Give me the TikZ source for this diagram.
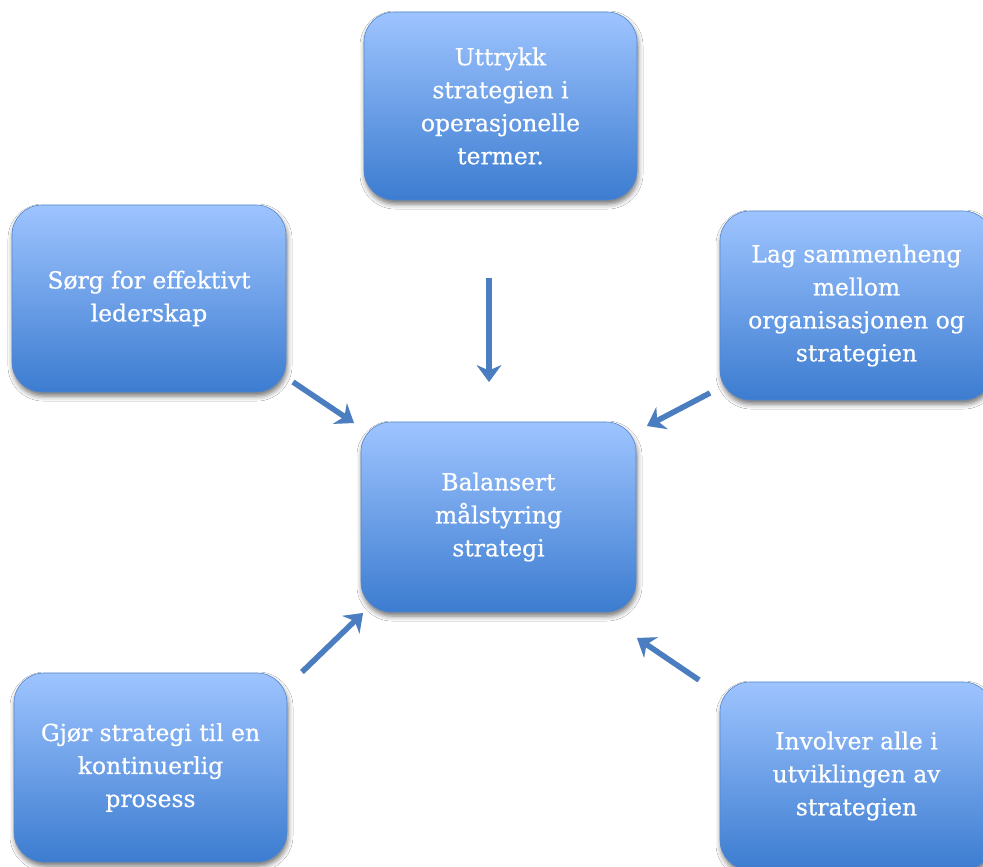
\documentclass[tikz,border=0pt]{standalone}
\usepackage{fontspec}
\setmainfont{DejaVu Serif}
\newfontfamily\boxfont[FakeBold=0.6]{DejaVu Serif}
\usetikzlibrary{arrows.meta,shadows.blur}
\definecolor{boxtop}{RGB}{158,196,255}
\definecolor{boxbottom}{RGB}{60,124,208}
\definecolor{boxedge}{RGB}{84,134,204}
\definecolor{arrowblue}{RGB}{74,126,193}
\tikzset{
  goal/.style={rounded corners=30pt, draw=boxedge, line width=0.6pt,
    top color=boxtop, bottom color=boxbottom, text=white, align=center,
    font=\boxfont\fontsize{23.4}{33}\selectfont, inner sep=0pt,
    minimum width=273pt, minimum height=188pt,
    blur shadow={shadow xshift=1pt, shadow yshift=-4pt,
      shadow blur radius=5pt, shadow opacity=55}},
  link/.style={draw=arrowblue, fill=arrowblue, line width=5.5pt,
    -{Stealth[length=17pt,width=25pt,inset=5.5pt,line width=0pt]}},
  linkshade/.style={draw=black, fill=black, opacity=0.12, line width=5.5pt,
    -{Stealth[length=17pt,width=25pt,inset=5.5pt,line width=0pt]},
    xshift=1.5pt, yshift=-2.5pt}
}
\begin{document}
\begin{tikzpicture}[x=1pt,y=-1pt]
\useasboundingbox (0,0) rectangle (983,867);
\fill[white] (0,0) rectangle (983,867);
\clip (0,0) rectangle (983,867);

% boxes
\node[goal] (top) at (500.5,106) {Uttrykk\\strategien i\\operasjonelle\\termer.};
\node[goal, minimum width=274pt, minimum height=187pt] (lu) at (149,298.5) {Sørg for effektivt\\lederskap};
\node[goal, minimum height=189pt] (ru) at (856.5,305.5) {Lag sammenheng\\mellom\\organisasjonen og\\strategien};
\node[goal, minimum width=275pt, minimum height=190pt] (mid) at (498.5,517) {Balansert\\målstyring\\strategi};
\node[goal, minimum height=189pt] (lb) at (150.5,767.5) {Gjør strategi til en\\kontinuerlig\\prosess};
\node[goal] (rb) at (856.5,776) {Involver alle i\\utviklingen av\\strategien};

% arrow end points in the gaps between the boxes
\coordinate (a1s) at (489,278);  \coordinate (a1e) at (489,382);
\coordinate (a2s) at (293,382);  \coordinate (a2e) at (354,423);
\coordinate (a3s) at (710,393);  \coordinate (a3e) at (647,426);
\coordinate (a4s) at (302,672);  \coordinate (a4e) at (363,613);
\coordinate (a5s) at (699,680);  \coordinate (a5e) at (637,638);

% faint shadows under the arrows
\foreach \s/\e in {a1s/a1e,a2s/a2e,a3s/a3e,a4s/a4e,a5s/a5e}
  \draw[linkshade] (\s) -- (\e);
% arrows pointing at the centre box
\foreach \s/\e in {a1s/a1e,a2s/a2e,a3s/a3e,a4s/a4e,a5s/a5e}
  \draw[link] (\s) -- (\e);
\end{tikzpicture}
\end{document}
